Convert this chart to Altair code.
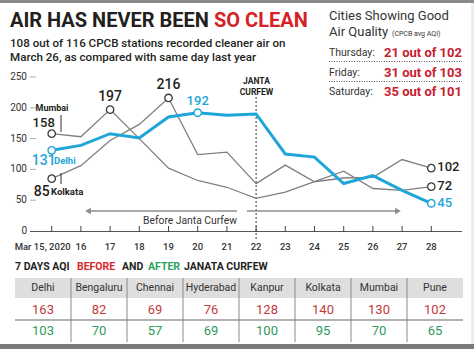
import altair as alt
import pandas as pd

# ---------------- data ----------------
days = list(range(15, 29))
day_labels = ["Mar 15, 2020"] + [str(d) for d in range(16, 29)]
delhi = [131, 139, 158, 151, 185, 192, 188, 190, 125, 120, 77, 90, 66, 45]
mumbai = [158, 153, 197, 150, 102, 82, 71, 53, 63, 80, 97, 69, 66, 72]
kolkata = [85, 106, 147, 173, 216, 124, 128, 77, 107, 80, 86, 87, 116, 102]
y_ticks = [0, 50, 100, 150, 200, 250]

cities = ["Delhi", "Bengaluru", "Chennai", "Hyderabad", "Kanpur", "Kolkata", "Mumbai", "Pune"]
before = [163, 82, 69, 76, 128, 140, 130, 102]
after = [103, 70, 57, 69, 100, 95, 70, 65]

good_days = ["Thursday:", "Friday:", "Saturday:"]
good_counts = ["21 out of 102", "31 out of 103", "35 out of 101"]

# ---------------- styling ----------------
FONT = "Roboto"
DARK = "#231f20"
GRAY_LINE = "#808080"
BLUE = "#1fa6d9"
RED = "#c8202f"
GREEN = "#2f9a5c"

XS = alt.Scale(domain=[15, 28], range=[51.7, 431.3], nice=False, zero=False)
YS = alt.Scale(domain=[0, 250], range=[231, 77], nice=False, zero=False)

series = {"Mumbai": mumbai, "Kolkata": kolkata, "Delhi": delhi}
lines = pd.DataFrame(
    [{"city": c, "day": d, "aqi": v} for c, vals in series.items() for d, v in zip(days, vals)]
)


def pt(city, day):
    v = series[city][days.index(day)]
    return {"city": city, "day": day, "aqi": v, "label": str(v)}


def X(field="day:Q"):
    return alt.X(field, scale=XS, axis=None)


def Y(field="aqi:Q"):
    return alt.Y(field, scale=YS, axis=None)


ONE = pd.DataFrame({"a": [0]})
layers = []

# frame bars
layers.append(alt.Chart(ONE).mark_rect(color="#8a8a8a").encode(
    x=alt.value(0), x2=alt.value(474), y=alt.value(0), y2=alt.value(3)))
layers.append(alt.Chart(ONE).mark_rect(color="#7b7b7b").encode(
    x=alt.value(0), x2=alt.value(474), y=alt.value(344), y2=alt.value(349)))
layers.append(alt.Chart(ONE).mark_rect(color="#ececec").encode(
    x=alt.value(471), x2=alt.value(474), y=alt.value(3), y2=alt.value(344)))


def txt(text, x, y, size, color=DARK, weight="normal", align="left", font=FONT):
    return alt.Chart(ONE).mark_text(
        text=text, align=align, baseline="middle", fontSize=size, fontWeight=weight,
        color=color, font=font).encode(x=alt.value(x), y=alt.value(y))


# titles
layers.append(txt("AIR HAS NEVER BEEN", 10, 21, 20, DARK, "bold"))
layers.append(txt("SO CLEAN", 214, 21, 20, "#d71f26", "bold"))
layers.append(txt("108 out of 116 CPCB stations recorded cleaner air on", 10, 44, 11.6, DARK, 500))
layers.append(txt("March 26, as compared with same day last year", 10, 58, 11.6, DARK, 500))

# right box
layers.append(txt("Cities Showing Good", 329, 16, 13, "#333333"))
layers.append(txt("Air Quality", 329, 32, 13, "#333333"))
layers.append(txt("(CPCB avg AQI)", 392, 33.5, 7, "#333333"))
row_y = [53, 72.5, 91.5]
for lab_, cnt, yy in zip(good_days, good_counts, row_y):
    layers.append(txt(lab_, 329, yy, 10.5, "#333333"))
    layers.append(txt(cnt, 462, yy, 13, RED, "bold", align="right"))
for yy in [61.5, 81.5]:
    layers.append(alt.Chart(ONE).mark_rule(
        color="#555555", strokeDash=[1, 1.5], strokeWidth=1).encode(
        x=alt.value(329), x2=alt.value(462), y=alt.value(yy)))

# y axis labels and tick dashes
yt = pd.DataFrame({"v": y_ticks})
layers.append(alt.Chart(yt).mark_text(align="right", baseline="middle", fontSize=10,
                                      color="#333333", font=FONT).encode(
    x=alt.value(27), y=Y("v:Q"), text="v:Q"))
layers.append(alt.Chart(yt[yt.v > 0]).mark_rule(color="#b0b0b0", strokeWidth=1).encode(
    x=alt.value(30), x2=alt.value(36), y=Y("v:Q")))

# x axis
layers.append(alt.Chart(ONE).mark_rule(color="#555555", strokeWidth=1.2).encode(
    x=alt.value(30), x2=alt.value(462), y=alt.value(231.5)))
xt = pd.DataFrame({"day": days, "lab": day_labels})
layers.append(alt.Chart(xt).mark_rule(color="#444444", strokeWidth=1).encode(
    x=X(), y=alt.value(226), y2=alt.value(232)))
layers.append(alt.Chart(xt[xt.day > 15]).mark_text(baseline="middle", fontSize=9.5,
                                                   color="#333333", font=FONT, fontWeight=500).encode(
    x=X(), y=alt.value(246.5), text="lab:N"))
layers.append(alt.Chart(xt[xt.day == 15]).mark_text(baseline="middle", fontSize=9.5, dx=-9,
                                                    color="#333333", font=FONT, fontWeight=500).encode(
    x=X(), y=alt.value(246.5), text="lab:N"))

# janta curfew marker
layers.append(alt.Chart(pd.DataFrame({"day": [22]})).mark_rule(
    color="#333333", strokeDash=[2, 2], strokeWidth=1).encode(
    x=X(), y=alt.value(97), y2=alt.value(241)))
layers.append(txt("JANTA", 256.5, 81, 8.5, DARK, "bold", align="center"))
layers.append(txt("CURFEW", 256.5, 91.5, 8.5, DARK, "bold", align="center"))

# arrows
ARROW = "#8c8c8c"
layers.append(alt.Chart(ONE).mark_rule(color=ARROW, strokeWidth=1.6).encode(
    x=alt.value(89), x2=alt.value(237), y=alt.value(211)))
layers.append(alt.Chart(ONE).mark_point(
    shape="triangle-left", filled=True, color=ARROW, size=45, opacity=1).encode(
    x=alt.value(88), y=alt.value(211)))
layers.append(alt.Chart(ONE).mark_rule(color=ARROW, strokeWidth=1.6).encode(
    x=alt.value(247), x2=alt.value(397), y=alt.value(211)))
layers.append(alt.Chart(ONE).mark_point(
    shape="triangle-right", filled=True, color=ARROW, size=45, opacity=1).encode(
    x=alt.value(398), y=alt.value(211)))
layers.append(txt("Before Janta Curfew", 190, 221, 10.3, "#333333", align="center"))

# lines
gray = lines[lines.city != "Delhi"]
layers.append(alt.Chart(gray).mark_line(color=GRAY_LINE, strokeWidth=1.3).encode(
    x=X(), y=Y(), detail="city:N"))
layers.append(alt.Chart(lines[lines.city == "Delhi"]).mark_line(color=BLUE, strokeWidth=3).encode(
    x=X(), y=Y()))

# leader lines
layers.append(alt.Chart(ONE).mark_rule(color="#333333", strokeWidth=1).encode(
    x=alt.value(61), y=alt.value(115), y2=alt.value(132)))
layers.append(alt.Chart(ONE).mark_rule(color="#333333", strokeWidth=1).encode(
    x=alt.value(61), y=alt.value(173), y2=alt.value(184)))

# circles
gpts = pd.DataFrame([pt("Mumbai", 15), pt("Mumbai", 17), pt("Mumbai", 28),
                     pt("Kolkata", 15), pt("Kolkata", 19), pt("Kolkata", 28)])
bpts = pd.DataFrame([pt("Delhi", 15), pt("Delhi", 20), pt("Delhi", 28)])
layers.append(alt.Chart(gpts).mark_point(shape="circle", filled=True, fill="white",
                                         stroke="#3a3a3a", strokeWidth=1.3, size=55, opacity=1).encode(
    x=X(), y=Y()))
layers.append(alt.Chart(bpts).mark_point(shape="circle", filled=True, fill="white",
                                         stroke=BLUE, strokeWidth=1.4, size=55, opacity=1).encode(
    x=X(), y=Y()))


def lab(df, dx, dy, color, size, align="center"):
    return alt.Chart(df).mark_text(align=align, baseline="middle", dx=dx, dy=dy,
                                   fontSize=size, color=color, font=FONT, fontWeight=500).encode(
        x=X(), y=Y(), text="label:N")


layers.append(lab(pd.DataFrame([pt("Mumbai", 17), pt("Kolkata", 19)]), 0, -13, DARK, 14))
layers.append(lab(pd.DataFrame([pt("Delhi", 20)]), 0, -12, BLUE, 13))
layers.append(lab(pd.DataFrame([pt("Mumbai", 15)]), -8, -10.5, DARK, 13))
layers.append(lab(pd.DataFrame([pt("Kolkata", 15)]), -10, 13, DARK, 14))
layers.append(lab(pd.DataFrame([pt("Delhi", 15)]), -8, 11, BLUE, 14))
layers.append(lab(pd.DataFrame([pt("Mumbai", 28), pt("Kolkata", 28)]), 6, -1, DARK, 13, "left"))
layers.append(lab(pd.DataFrame([pt("Delhi", 28)]), 6, 0, BLUE, 13, "left"))

layers.append(txt("Mumbai", 52, 108, 9, DARK, "bold", align="center"))
layers.append(txt("Delhi", 54, 160.5, 9.5, BLUE, "bold"))
layers.append(txt("Kolkata", 51, 192, 9.5, DARK, "bold"))

# ---------------- table ----------------
XC = alt.Scale(type="band", domain=cities, range=[15, 463], paddingInner=0, paddingOuter=0)
tbl = pd.DataFrame({"city": cities, "before": before, "after": after})

layers.append(txt("7 DAYS AQI", 15, 266.5, 10.5, DARK, "bold"))
layers.append(txt("BEFORE", 77, 266.5, 10.5, "#d7262c", "bold"))
layers.append(txt("AND", 122, 266.5, 10.5, DARK, "bold"))
layers.append(txt("AFTER", 148, 266.5, 10.5, "#2aa35a", "bold"))
layers.append(txt("JANATA CURFEW", 184, 266.5, 10.5, DARK, "bold"))

layers.append(alt.Chart(ONE).mark_rect(color="#dedede").encode(
    x=alt.value(15), x2=alt.value(463), y=alt.value(278), y2=alt.value(298)))
layers.append(alt.Chart(ONE).mark_rule(color="#666666", strokeWidth=1.2).encode(
    x=alt.value(15), x2=alt.value(463), y=alt.value(320)))
layers.append(alt.Chart(tbl[tbl.city != cities[0]]).mark_rule(color="#8a8a8a", strokeWidth=1).encode(
    x=alt.X("city:N", scale=XC, axis=None, bandPosition=0), y=alt.value(278), y2=alt.value(342)))
layers.append(alt.Chart(tbl).mark_text(baseline="middle", fontSize=10.5, color="#333333", font=FONT).encode(
    x=alt.X("city:N", scale=XC, axis=None, bandPosition=0.5), y=alt.value(288), text="city:N"))
layers.append(alt.Chart(tbl).mark_text(baseline="middle", fontSize=13, color="#c23b3b", font=FONT).encode(
    x=alt.X("city:N", scale=XC, axis=None, bandPosition=0.5), y=alt.value(310), text="before:Q"))
layers.append(alt.Chart(tbl).mark_text(baseline="middle", fontSize=13, color=GREEN, font=FONT).encode(
    x=alt.X("city:N", scale=XC, axis=None, bandPosition=0.5), y=alt.value(331), text="after:Q"))

chart = alt.layer(*layers).resolve_scale(x="independent", y="independent").properties(
    width=474, height=349, padding=0, autosize=alt.AutoSizeParams(type="none"),
    background="white"
).configure_view(stroke=None)

chart.save("out.html", embed_options={"renderer": "svg", "actions": False})
